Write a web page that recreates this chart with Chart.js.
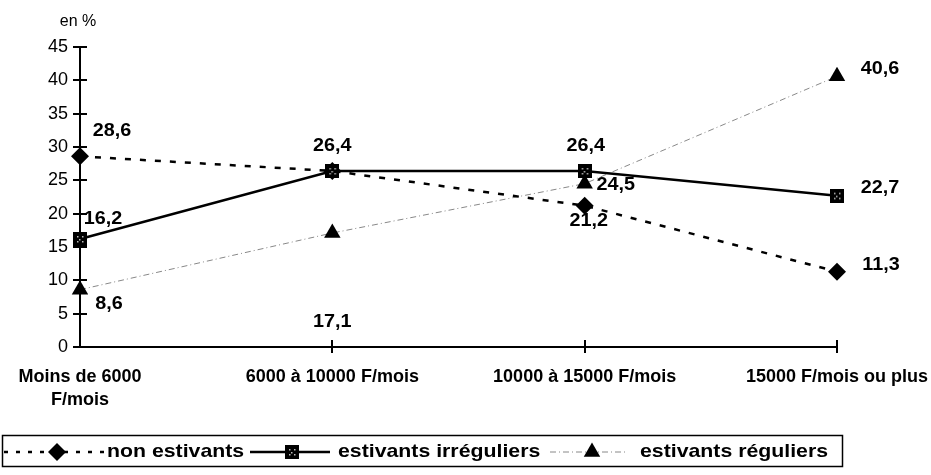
<!DOCTYPE html>
<html><head><meta charset="utf-8">
<script src="https://cdn.jsdelivr.net/npm/chart.js@4/dist/chart.umd.min.js"></script>
<style>html,body{margin:0;padding:0;background:#fff}#wrap{width:931px;height:475px;position:relative}</style>
</head><body><div id="wrap"><canvas id="c" width="931" height="475"></canvas></div>
<script>
// ---- data ----
const categories = [["Moins de 6000", "F/mois"], "6000 à 10000 F/mois", "10000 à 15000 F/mois", "15000 F/mois ou plus"];
const seriesNames = ["non estivants", "estivants irréguliers", "estivants réguliers"];
const nonEstivants = [28.6, 26.4, 21.2, 11.3];
const estivantsIrreguliers = [16.2, 26.4, 26.4, 22.7];
const estivantsReguliers = [8.6, 17.1, 24.5, 40.6];
const yMin = 0, yMax = 45, yStep = 5;
const yUnit = "en %";

// ---- label placement (style, not data) ----
const labelOffsets = [
  [[32, -25], null, [4, 15], [44, -7]],
  [[23, -20], [0, -25], [1, -25], [43, -8]],
  [[29, 14], [0, 89], [31, 1], [43, -7]]
];

const FONT = '"Liberation Sans", Arial, sans-serif';

function makeSquare() {
  const c = document.createElement('canvas');
  c.width = 14; c.height = 14;
  const g = c.getContext('2d');
  g.fillStyle = '#000'; g.fillRect(0, 0, 14, 14);
  g.fillStyle = '#bbb';
  [[4,4],[9,4],[6,7],[4,9],[9,9]].forEach(p => g.fillRect(p[0], p[1], 1.5, 1.5));
  return c;
}
const squareImg = makeSquare();

const fmt = v => v.toFixed(1).replace('.', ',');

const axisTicksPlugin = {
  id: 'axisTicks',
  afterDraw(chart) {
    const ctx = chart.ctx, y = chart.scales.y, x = chart.scales.x;
    const ca = chart.chartArea;
    ctx.save();
    ctx.strokeStyle = '#000'; ctx.lineWidth = 2;
    y.ticks.forEach(t => {
      const py = Math.round(y.getPixelForValue(t.value));
      ctx.beginPath(); ctx.moveTo(ca.left - 7, py); ctx.lineTo(ca.left + 7, py); ctx.stroke();
    });
    x.ticks.forEach((t, i) => {
      if (i === 0) return;
      const px = Math.round(x.getPixelForTick(i));
      ctx.beginPath(); ctx.moveTo(px, ca.bottom - 7); ctx.lineTo(px, ca.bottom + 6); ctx.stroke();
    });
    ctx.fillStyle = '#000';
    ctx.font = '16px ' + FONT;
    ctx.textAlign = 'center'; ctx.textBaseline = 'middle';
    ctx.fillText(yUnit, 78, 22);
    ctx.restore();
  }
};

const valueLabelsPlugin = {
  id: 'valueLabels',
  afterDatasetsDraw(chart) {
    const ctx = chart.ctx;
    ctx.save();
    ctx.fillStyle = '#000';
    ctx.font = 'bold 18px ' + FONT;
    ctx.textAlign = 'center'; ctx.textBaseline = 'middle';
    chart.data.datasets.forEach((ds, di) => {
      const meta = chart.getDatasetMeta(di);
      meta.data.forEach((pt, i) => {
        const off = labelOffsets[di][i];
        if (!off) return;
        ctx.save();
        ctx.translate(pt.x + off[0], pt.y + off[1]);
        ctx.scale(1.1, 1);
        ctx.fillText(fmt(ds.data[i]), 0, 0);
        ctx.restore();
      });
    });
    ctx.restore();
  }
};

const legendPlugin = {
  id: 'boxLegend',
  afterDraw(chart) {
    const ctx = chart.ctx;
    const ds = chart.data.datasets;
    ctx.save();
    ctx.strokeStyle = '#000'; ctx.lineWidth = 1.5;
    ctx.strokeRect(2.5, 435.5, 840, 31);
    const cy = 452;
    const items = [
      {x0: 4, x1: 104, mx: 57, tx: 107, dash: [4, 8]},
      {x0: 250, x1: 330, mx: 292, tx: 338, dash: []},
      {x0: 550, x1: 628, mx: 592, tx: 640, dash: [6, 3, 1, 3]}
    ];
    items.forEach((it, i) => {
      const d = ds[i];
      ctx.save();
      ctx.strokeStyle = d.borderColor; ctx.lineWidth = d.borderWidth;
      ctx.setLineDash(it.dash);
      ctx.beginPath(); ctx.moveTo(it.x0, cy); ctx.lineTo(it.x1, cy); ctx.stroke();
      ctx.setLineDash([]);
      ctx.restore();
      ctx.fillStyle = '#000'; ctx.strokeStyle = '#000';
      Chart.helpers.drawPoint(ctx, {pointStyle: d.pointStyle, radius: d.pointRadius, rotation: 0, borderWidth: 0}, it.mx, cy);
      ctx.fillStyle = '#000';
      ctx.font = 'bold 19px ' + FONT;
      ctx.textAlign = 'left'; ctx.textBaseline = 'middle';
      ctx.save(); ctx.translate(it.tx, cy); ctx.scale(1.12, 1);
      ctx.fillText(seriesNames[i], 0, 0);
      ctx.restore();
    });
    ctx.restore();
  }
};

new Chart(document.getElementById('c'), {
  type: 'line',
  data: {
    labels: categories,
    datasets: [
      {label: seriesNames[0], data: nonEstivants, borderColor: '#000', backgroundColor: '#000',
       borderWidth: 2.5, borderDash: [6, 9], pointStyle: 'rectRot', pointRadius: 9,
       pointBackgroundColor: '#000', pointBorderWidth: 0, tension: 0, order: 1},
      {label: seriesNames[1], data: estivantsIrreguliers, borderColor: '#000', backgroundColor: '#000',
       borderWidth: 2.5, pointStyle: squareImg, pointRadius: 7,
       pointBorderWidth: 0, tension: 0, order: 0},
      {label: seriesNames[2], data: estivantsReguliers, borderColor: '#888', backgroundColor: '#000',
       borderWidth: 1, borderDash: [6, 3, 1, 3], pointStyle: 'triangle', pointRadius: 9.5,
       pointBackgroundColor: '#000', pointBorderColor: '#000', pointBorderWidth: 0, tension: 0, order: 2}
    ]
  },
  options: {
    responsive: false, animation: false,
    layout: {padding: {left: 0, top: 47, right: 94, bottom: 0}},
    plugins: {legend: {display: false}, tooltip: {enabled: false}},
    scales: {
      x: {
        type: 'category', offset: false,
        grid: {display: false, drawTicks: false},
        border: {display: true, color: '#000', width: 2},
        ticks: {color: '#000', font: {family: FONT, size: 18, weight: 'bold', lineHeight: 1.3},
                padding: 18, maxRotation: 0, autoSkip: false},
        afterFit(s) { s.height = 128; s.paddingLeft = 0; s.paddingRight = 0; }
      },
      y: {
        min: yMin, max: yMax,
        grid: {display: false, drawTicks: false},
        border: {display: true, color: '#000', width: 2},
        ticks: {stepSize: yStep, color: '#000', font: {family: FONT, size: 18}, padding: 12},
        afterFit(s) { s.width = 80; s.paddingTop = 0; s.paddingBottom = 0; }
      }
    }
  },
  plugins: [axisTicksPlugin, valueLabelsPlugin, legendPlugin]
});
</script>
</body></html>
